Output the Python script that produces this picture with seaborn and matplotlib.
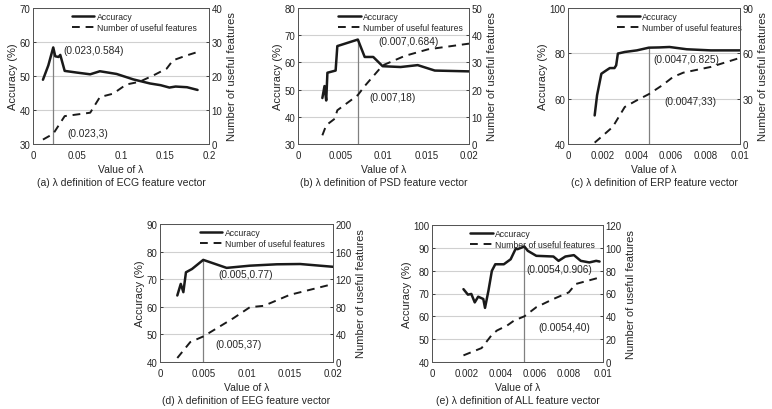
import numpy as np
import pandas as pd
import matplotlib
matplotlib.use("Agg")
import matplotlib.pyplot as plt
import seaborn as sns

sns.set_theme(style="white")
plt.rcParams['font.family'] = ['Liberation Sans', 'DejaVu Sans']

# (a) ECG
ecg_acc_x = [0.0113, 0.0174, 0.023, 0.0253, 0.029, 0.031, 0.036, 0.05, 0.065, 0.076, 0.095, 0.114, 0.133, 0.145, 0.155, 0.162, 0.175, 0.187]
ecg_acc_y = [48.9, 53.1, 58.4, 55.8, 55.6, 56.2, 51.5, 51.0, 50.5, 51.4, 50.6, 49.0, 47.8, 47.3, 46.6, 46.9, 46.7, 45.9]
ecg_num_x = [0.0113, 0.023, 0.036, 0.065, 0.076, 0.091, 0.106, 0.121, 0.137, 0.152, 0.159, 0.174, 0.19]
ecg_num_y = [1.3, 3, 8.2, 9.2, 13.8, 14.8, 17.5, 18.3, 20.2, 22.2, 24.6, 26.0, 27.3]

# (b) PSD
psd_acc_x = [0.00285, 0.0031, 0.0033, 0.00344, 0.0044, 0.0046, 0.0068, 0.007, 0.0078, 0.0088, 0.0099, 0.012, 0.014, 0.016, 0.02]
psd_acc_y = [46.9, 51.3, 46.0, 56.2, 57.0, 66.0, 68.2, 68.4, 62.0, 62.0, 58.6, 58.3, 59.0, 57.0, 56.7]
psd_num_x = [0.00285, 0.0033, 0.0043, 0.0046, 0.0068, 0.007, 0.0078, 0.0099, 0.0125, 0.0152, 0.02]
psd_num_y = [3.2, 6.9, 9.3, 12.4, 17.5, 18, 21.3, 28.9, 32.4, 34.8, 36.9]

# (c) ERP
erp_acc_x = [0.00155, 0.00169, 0.00194, 0.00223, 0.00243, 0.0027, 0.0028, 0.0029, 0.0033, 0.004, 0.0047, 0.0053, 0.0059, 0.0069, 0.0083, 0.01]
erp_acc_y = [52.6, 61.5, 71.0, 72.5, 73.5, 73.5, 74.7, 79.9, 80.6, 81.3, 82.5, 82.6, 82.8, 81.8, 81.3, 81.3]
erp_num_x = [0.00155, 0.002, 0.0026, 0.0033, 0.004, 0.0047, 0.0055, 0.0061, 0.0067, 0.0083, 0.01]
erp_num_y = [0.9, 5.3, 11.3, 24.5, 28.9, 33, 39, 44.3, 47.2, 51, 57]

# (d) EEG
eeg_acc_x = [0.002, 0.0024, 0.0027, 0.003, 0.0037, 0.005, 0.0077, 0.0104, 0.0135, 0.0162, 0.02]
eeg_acc_y = [64.1, 68.3, 65.3, 72.5, 73.7, 77.0, 74.1, 74.9, 75.4, 75.5, 74.5]
eeg_num_x = [0.002, 0.0035, 0.005, 0.0085, 0.0104, 0.012, 0.015, 0.02]
eeg_num_y = [5.8, 28.9, 37, 63.6, 79.5, 81.4, 97.3, 113]

# (e) ALL
all_acc_x = [0.00184, 0.0021, 0.0023, 0.0025, 0.0027, 0.003, 0.0031, 0.0033, 0.0035, 0.0037, 0.0042, 0.0046, 0.0049, 0.0050, 0.0054, 0.0056, 0.0061, 0.0071, 0.0074, 0.0078, 0.0083, 0.0087, 0.0092, 0.0096, 0.0098]
all_acc_y = [71.9, 69.5, 69.8, 66.1, 68.6, 67.6, 63.7, 71.2, 79.9, 82.8, 82.8, 85.0, 89.7, 89.4, 90.6, 88.7, 86.5, 86.2, 84.3, 86.2, 86.8, 84.3, 83.6, 84.3, 84.0]
all_num_x = [0.00184, 0.0029, 0.0035, 0.0038, 0.0044, 0.0048, 0.0054, 0.0061, 0.0071, 0.008, 0.0084, 0.0098]
all_num_y = [5.8, 12.2, 23.8, 27.6, 32, 36.3, 40, 48, 55.2, 61, 68.3, 74]

panels = [
    dict(name='ECG', tag='a', px=(33, 209, 9, 145), acc=(ecg_acc_x, ecg_acc_y), num=(ecg_num_x, ecg_num_y),
         xlim=(0, 0.2), xt=[0, 0.05, 0.1, 0.15, 0.2], xtl=['0', '0.05', '0.1', '0.15', '0.2'],
         ylim=(30, 70), yt=[30, 40, 50, 60, 70], y2lim=(0, 40), y2t=[0, 10, 20, 30, 40],
         peak=(0.023, 58.4), t1=(0.034, 57.6, '(0.023,0.584)'), t2=(0.0385, 33.2, '(0.023,3)'), leg=0.575),
    dict(name='PSD', tag='b', px=(298, 469, 9, 145), acc=(psd_acc_x, psd_acc_y), num=(psd_num_x, psd_num_y),
         xlim=(0, 0.02), xt=[0, 0.005, 0.01, 0.015, 0.02], xtl=['0', '0.005', '0.01', '0.015', '0.02'],
         ylim=(30, 80), yt=[30, 40, 50, 60, 70, 80], y2lim=(0, 50), y2t=[0, 10, 20, 30, 40, 50],
         peak=(0.007, 68.4), t1=(0.0094, 68.0, '(0.007,0.684)'), t2=(0.0084, 47.3, '(0.007,18)'), leg=0.6),
    dict(name='ERP', tag='c', px=(568, 740, 9, 145), acc=(erp_acc_x, erp_acc_y), num=(erp_num_x, erp_num_y),
         xlim=(0, 0.01), xt=[0, 0.002, 0.004, 0.006, 0.008, 0.01], xtl=['0', '0.002', '0.004', '0.006', '0.008', '0.01'],
         ylim=(40, 100), yt=[40, 60, 80, 100], y2lim=(0, 90), y2t=[0, 30, 60, 90],
         peak=(0.0047, 82.5), t1=(0.00495, 77.6, '(0.0047,0.825)'), t2=(0.0056, 58.8, '(0.0047,33)'), leg=0.65),
    dict(name='EEG', tag='d', px=(160, 333, 225, 363), acc=(eeg_acc_x, eeg_acc_y), num=(eeg_num_x, eeg_num_y),
         xlim=(0, 0.02), xt=[0, 0.005, 0.01, 0.015, 0.02], xtl=['0', '0.005', '0.01', '0.015', '0.02'],
         ylim=(40, 90), yt=[40, 50, 60, 70, 80, 90], y2lim=(0, 200), y2t=[0, 40, 80, 120, 160, 200],
         peak=(0.005, 77.0), t1=(0.0067, 72.0, '(0.005,0.77)'), t2=(0.0064, 46.4, '(0.005,37)'), leg=0.59),
    dict(name='ALL', tag='e', px=(432, 603, 226, 363), acc=(all_acc_x, all_acc_y), num=(all_num_x, all_num_y),
         xlim=(0, 0.01), xt=[0, 0.002, 0.004, 0.006, 0.008, 0.01], xtl=['0', '0.002', '0.004', '0.006', '0.008', '0.01'],
         ylim=(40, 100), yt=[40, 50, 60, 70, 80, 90, 100], y2lim=(0, 120), y2t=[0, 20, 40, 60, 80, 100, 120],
         peak=(0.0054, 90.6), t1=(0.00553, 80.7, '(0.0054,0.906)'), t2=(0.0062, 55.2, '(0.0054,40)'), leg=0.59),
]

W, H = 772, 410
fig = plt.figure(figsize=(W / 100, H / 100), dpi=100)
txt = '#262626'
frame = '#555555'

for p in panels:
    l, r, t, b = p['px']
    ax = fig.add_axes([l / W, 1 - b / H, (r - l) / W, (b - t) / H])
    ax2 = ax.twinx()

    df_acc = pd.DataFrame({'x': p['acc'][0], 'y': p['acc'][1]})
    df_num = pd.DataFrame({'x': p['num'][0], 'y': p['num'][1]})
    sns.lineplot(data=df_acc, x='x', y='y', ax=ax, color='#1a1a1a', lw=1.8, sort=False, label='Accuracy', legend=False)
    sns.lineplot(data=df_num, x='x', y='y', ax=ax2, color='#1a1a1a', lw=1.4, sort=False,
                 label='Number of useful features', legend=False)
    ax2.lines[0].set_dashes([4, 3])

    ax.set_xlim(*p['xlim'])
    ax.set_ylim(*p['ylim'])
    ax2.set_ylim(*p['y2lim'])
    ax.set_xticks(p['xt'])
    ax.set_xticklabels(p['xtl'])
    ax.set_yticks(p['yt'])
    ax2.set_yticks(p['y2t'])
    ax.yaxis.grid(True, color='#d0d0d0', lw=0.8)
    ax.set_axisbelow(True)

    ax.vlines(p['peak'][0], p['ylim'][0], p['peak'][1], color='#808080', lw=0.9, zorder=1)

    for a in (ax, ax2):
        a.tick_params(labelsize=7, colors=txt, direction='in', length=2, width=0.6, pad=2)
        for s in a.spines.values():
            s.set_color(frame)
            s.set_linewidth(0.7)
    ax.tick_params(axis='x', pad=4)
    ax.set_xlabel('')
    ax.set_ylabel('Accuracy (%)', fontsize=8, color=txt, labelpad=1)
    ax2.set_ylabel('Number of useful features', fontsize=8, color=txt, labelpad=3)

    ax.text(p['t1'][0], p['t1'][1], p['t1'][2], fontsize=7.3, color=txt, va='center', ha='left')
    ax.text(p['t2'][0], p['t2'][1], p['t2'][2], fontsize=7.3, color=txt, va='center', ha='left')

    handles = [ax.lines[0], ax2.lines[0]]
    ax.legend(handles, ['Accuracy', 'Number of useful features'], loc='upper center',
              bbox_to_anchor=(p['leg'], 1.02), frameon=False, fontsize=6.2, handlelength=2.6,
              labelspacing=0.25, handletextpad=0.3, borderpad=0.3)

    cx = (l + r) / 2 / W
    fig.text(cx, 1 - (b + 25) / H, 'Value of λ', fontsize=7.5, color=txt, ha='center', va='center')
    fig.text(cx, 1 - (b + 38.5) / H, '(%s) λ definition of %s feature vector' % (p['tag'], p['name']),
             fontsize=7.5, color=txt, ha='center', va='center')

fig.savefig('out.png', dpi=100)
